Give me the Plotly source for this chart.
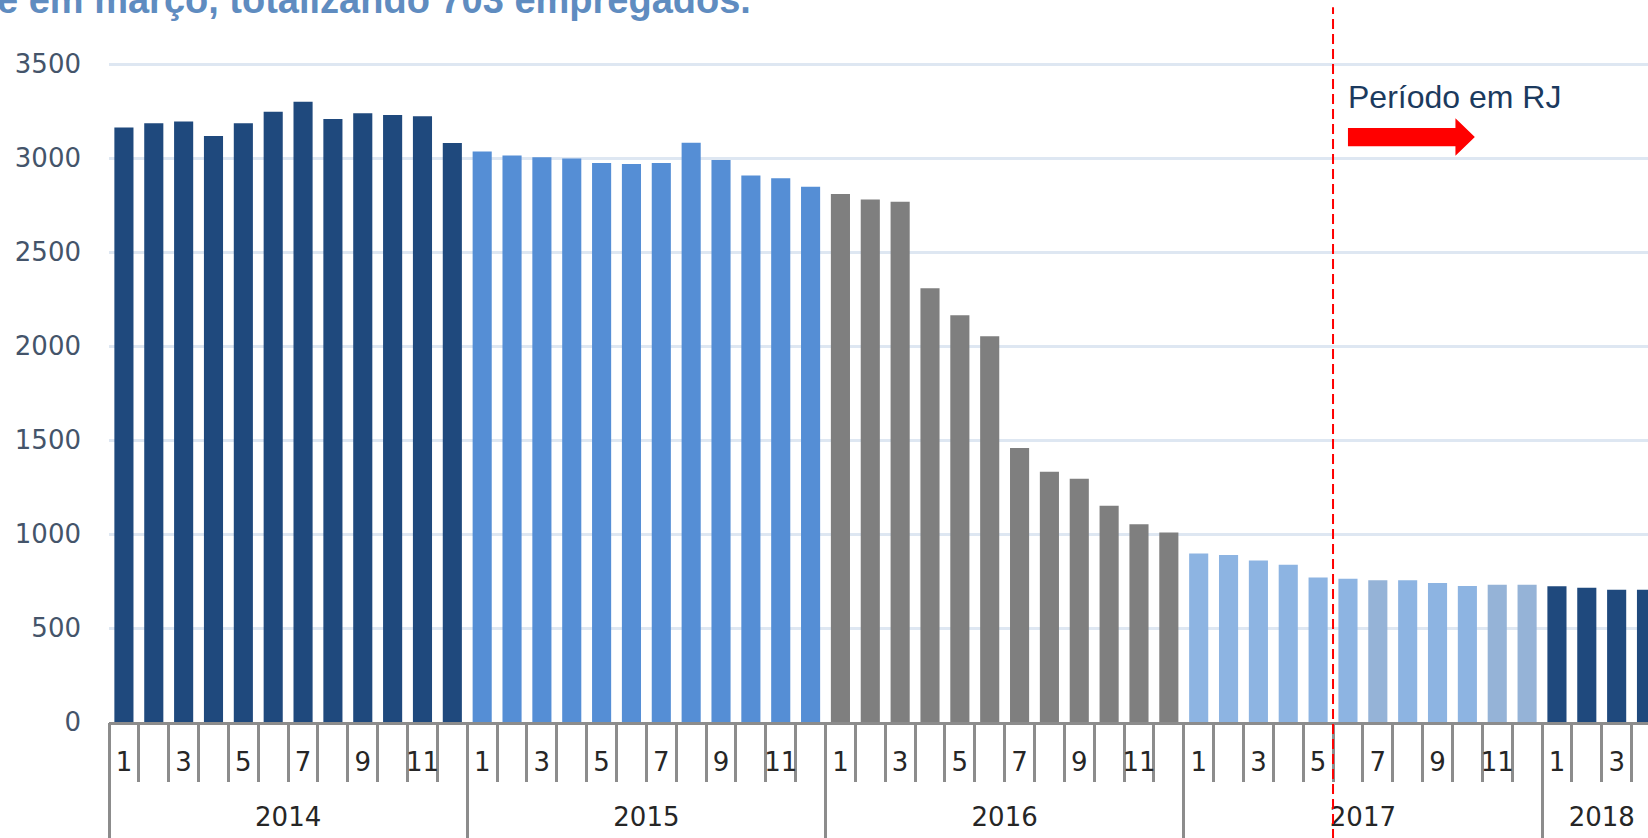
import plotly.graph_objects as go

# ---------------- data ----------------
years = [2014, 2015, 2016, 2017, 2018]
months_per_year = {
    2014: [1, 2, 3, 4, 5, 6, 7, 8, 9, 10, 11, 12],
    2015: [1, 2, 3, 4, 5, 6, 7, 8, 9, 10, 11, 12],
    2016: [1, 2, 3, 4, 5, 6, 7, 8, 9, 10, 11, 12],
    2017: [1, 2, 3, 4, 5, 6, 7, 8, 9, 10, 11, 12],
    2018: [1, 2, 3, 4],
}
emp_2014 = [3162, 3185, 3194, 3118, 3185, 3246, 3299, 3208, 3238, 3229, 3222, 3080]
emp_2015 = [3035, 3013, 3004, 2997, 2974, 2968, 2974, 3081, 2990, 2907, 2893, 2847]
emp_2016 = [2809, 2779, 2767, 2307, 2164, 2052, 1458, 1331, 1294, 1150, 1052, 1008]
emp_2017 = [896, 889, 859, 836, 769, 762, 754, 754, 740, 724, 730, 730]
emp_2018 = [722, 714, 703, 703]
values_by_year = {2014: emp_2014, 2015: emp_2015, 2016: emp_2016, 2017: emp_2017, 2018: emp_2018}

y_ticks = [0, 500, 1000, 1500, 2000, 2500, 3000, 3500]
rj_start = (2017, 6)          # first month of "Período em RJ"
title_text = "e em março, totalizando 703 empregados."
rj_text = "Período em RJ"

# ---------------- styles ----------------
year_colors = {2014: "#1F497D", 2015: "#558ED5", 2016: "#7F7F7F", 2017: "#8DB4E2", 2018: "#1F497D"}
alt_colors = {(2017, 7): "#95B3D7", (2017, 11): "#95B3D7", (2017, 12): "#95B3D7"}
axis_gray = "#8C8C8C"

# ---------------- build series ----------------
xs, ys, cols, keys = [], [], [], []
i = 0
for yr in years:
    for m, v in zip(months_per_year[yr], values_by_year[yr]):
        xs.append(i)
        ys.append(v)
        keys.append((yr, m))
        cols.append(alt_colors.get((yr, m), year_colors[yr]))
        i += 1
xrange_ = [-0.5, 51.05]

month_tickvals = [x for x, (yr, m) in zip(xs, keys) if m % 2 == 1]
month_ticktext = [str(m) for (yr, m) in keys if m % 2 == 1]
boundaries = [x - 0.5 for x in xs] + [xs[-1] + 0.5]
year_bounds, year_centers = [], []
for yr in years:
    idx = [x for x, (y_, m) in zip(xs, keys) if y_ == yr]
    year_bounds.append(idx[0] - 0.5)
    year_centers.append(sum(idx) / len(idx))
rj_x = keys.index(rj_start) - 0.5

fig = go.Figure()
fig.add_trace(go.Bar(x=xs, y=ys, marker=dict(color=cols, line=dict(width=0)),
                     width=0.64, showlegend=False, hoverinfo="x+y"))
# invisible traces to attach overlay axes
for ax in ["x2", "x3", "x4"]:
    fig.add_trace(go.Scatter(x=[xs[0]], y=[0], xaxis=ax, yaxis="y", mode="markers",
                             marker=dict(opacity=0), showlegend=False, hoverinfo="skip"))

tickfont = dict(family="DejaVu Sans", size=26, color="#262626")
fig.update_layout(
    width=1648, height=838,
    margin=dict(l=109, r=0, t=62, b=116, autoexpand=False),
    paper_bgcolor="white", plot_bgcolor="white",
    bargap=0.36,
    yaxis=dict(range=[0, 3511], tickvals=y_ticks, showgrid=True, gridcolor="#DEE7F2",
               gridwidth=2.5, zeroline=False, showline=False, ticks="", automargin=False,
               tickfont=dict(family="DejaVu Sans", size=26, color="#44546A"),
               ticklabelstandoff=27),
    xaxis=dict(range=xrange_, tickvals=boundaries, ticks="outside", ticklen=57, tickwidth=2.5,
               tickcolor=axis_gray, showticklabels=False, showline=True, linecolor=axis_gray,
               linewidth=2.5, showgrid=False, zeroline=False, automargin=False),
    xaxis2=dict(range=xrange_, overlaying="x", anchor="y", side="bottom", automargin=False,
                tickvals=month_tickvals, ticktext=month_ticktext, ticks="",
                ticklabelstandoff=22, tickfont=tickfont, showline=False, showgrid=False,
                zeroline=False),
    xaxis3=dict(range=xrange_, overlaying="x", anchor="y", side="bottom", automargin=False,
                tickvals=year_bounds, ticks="outside", ticklen=125, tickwidth=2.5,
                tickcolor=axis_gray, showticklabels=False, showline=False, showgrid=False,
                zeroline=False),
    xaxis4=dict(range=xrange_, overlaying="x", anchor="y", side="bottom", automargin=False,
                tickvals=year_centers, ticktext=[str(y) for y in years], ticks="",
                ticklabelstandoff=77, tickfont=tickfont, showline=False, showgrid=False,
                zeroline=False),
)

# red dashed line marking start of RJ period
fig.add_shape(type="line", xref="x", yref="paper", x0=rj_x, x1=rj_x, y0=-0.2, y1=1.083,
              line=dict(color="#FF0000", width=2, dash="10px,5px"), layer="above")

# red block arrow
ax0, axh, axt = 41.0, 44.6, 45.25
sy0, sy1, hy0, hy1, ty = 3063, 3160, 3012, 3212, 3112
fig.add_shape(type="path", xref="x", yref="y",
              path=f"M {ax0},{sy0} L {axh},{sy0} L {axh},{hy0} L {axt},{ty} L {axh},{hy1} "
                   f"L {axh},{sy1} L {ax0},{sy1} Z",
              fillcolor="#FF0000", line=dict(width=0), layer="above")

fig.add_annotation(text=rj_text, xref="x", yref="y", x=40.95, y=3326, xanchor="left",
                   yanchor="middle", showarrow=False,
                   font=dict(family="Liberation Sans", size=32, color="#1B3A5E"))

fig.add_annotation(text=f"<b>{title_text}</b>", xref="paper", yref="paper",
                   x=-0.0741, y=1.094, xanchor="left", yanchor="middle", showarrow=False,
                   font=dict(family="Liberation Sans", size=38, color="#5F8CC0"))

fig.write_html("out.html", config={"displayModeBar": False},
               post_script="document.body.style.margin='0';document.body.style.padding='0';")
